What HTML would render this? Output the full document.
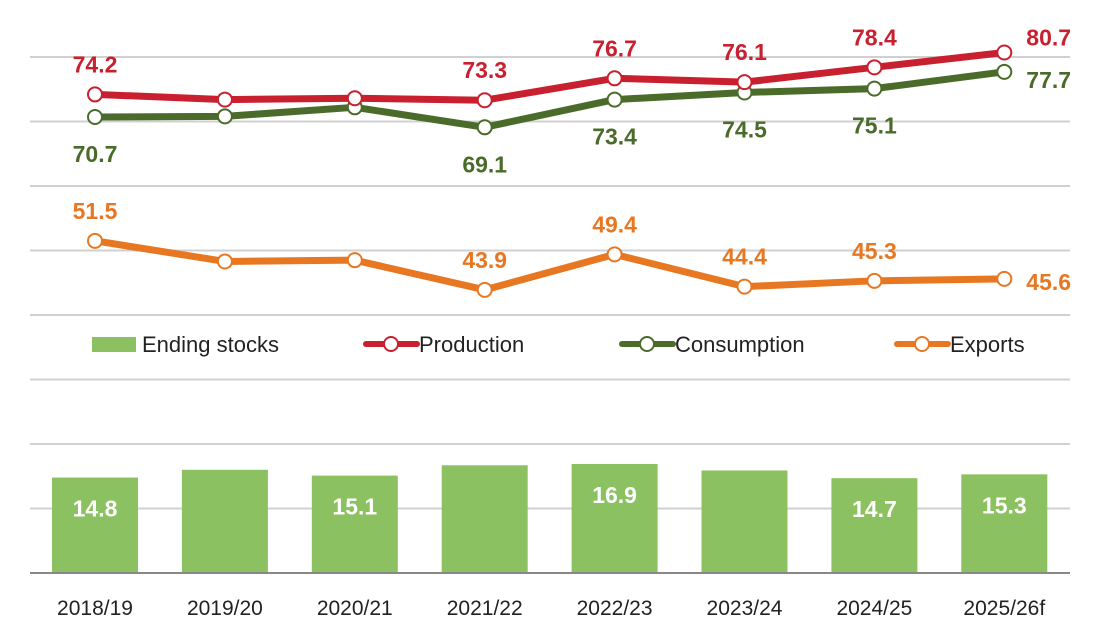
<!DOCTYPE html>
<html><head><meta charset="utf-8">
<style>
html,body{margin:0;padding:0;background:#fff;}
svg{display:block;font-family:"Liberation Sans",sans-serif;}
</style></head>
<body>
<svg id="chart" width="1102" height="640" viewBox="0 0 1102 640" xmlns="http://www.w3.org/2000/svg"></svg>
<script>
const categories = ["2018/19","2019/20","2020/21","2021/22","2022/23","2023/24","2024/25","2025/26f"];
const endingStocks = [14.8,16.0,15.1,16.7,16.9,15.9,14.7,15.3];
const stockLabels = ["14.8","","15.1","","16.9","","14.7","15.3"];
const production = [74.2,73.4,73.6,73.3,76.7,76.1,78.4,80.7];
const productionLabels = ["74.2","","","73.3","76.7","76.1","78.4","80.7"];
const consumption = [70.7,70.8,72.2,69.1,73.4,74.5,75.1,77.7];
const consumptionLabels = ["70.7","","","69.1","73.4","74.5","75.1","77.7"];
const exportsV = [51.5,48.3,48.5,43.9,49.4,44.4,45.3,45.6];
const exportsLabels = ["51.5","","","43.9","49.4","44.4","45.3","45.6"];
const gridValues = [0,10,20,30,40,50,60,70,80];

const svg = document.getElementById('chart');
const NS = 'http://www.w3.org/2000/svg';
const y = v => 573 - v * 6.45;
const x = i => 95 + i * 129.9;
function mk(tag, attrs, parent){const e=document.createElementNS(NS,tag);for(const k in attrs)e.setAttribute(k,attrs[k]);(parent||svg).appendChild(e);return e;}

gridValues.forEach((g,i)=>{
  if(g===0) return;
  const l = mk('line',{x1:30,x2:1070,y1:y(g),y2:y(g),stroke:'#d0d0d0','stroke-width':2});
  
  
});

endingStocks.forEach((v,i)=>{
  const r = mk('rect',{x:x(i)-43,y:y(v),width:86,height:573-y(v),fill:'#8cc161'});
  
  
  if(stockLabels[i]){
    const t = mk('text',{x:x(i),y:y(v)+39,'text-anchor':'middle','font-size':23,'font-weight':'bold',fill:'#fff'});
    t.textContent = stockLabels[i];
    
    
  }
});

const ax = mk('line',{x1:30,x2:1070,y1:573,y2:573,stroke:'#888','stroke-width':2});



categories.forEach((c,i)=>{
  const t = mk('text',{x:x(i),y:615,'text-anchor':'middle','font-size':21,fill:'#222'});
  t.textContent = c;
  
  
});

function series(vals, labels, color, name, pos){
  const pts = vals.map((v,i)=>x(i)+','+y(v)).join(' ');
  const pl = mk('polyline',{points:pts,fill:'none',stroke:color,'stroke-width':7,'stroke-linejoin':'round'});
  
  
  vals.forEach((v,i)=>{
    const c = mk('circle',{cx:x(i),cy:y(v),r:7,fill:'#fff',stroke:color,'stroke-width':2});
    
    
    if(labels[i]){
      let tx=x(i), ty, anchor='middle';
      if(i===vals.length-1){
        tx=x(i)+22; anchor='start';
        if(name==='production') ty=y(v)-7;
        else if(name==='consumption') ty=y(v)+16;
        else ty=y(v)+11;
      } else {
        ty = pos==='below' ? y(v)+45 : y(v)-22;
      }
      const t = mk('text',{x:tx,y:ty,'text-anchor':anchor,'font-size':23,'font-weight':'bold',fill:color});
      t.textContent = labels[i];
      
      
    }
  });
}
series(exportsV, exportsLabels, '#e87722', 'exports', 'above');
series(consumption, consumptionLabels, '#4a6b2a', 'consumption', 'below');
series(production, productionLabels, '#c8202f', 'production', 'above');

const lg = mk('g',{});


const e1 = mk('g',{},lg);


mk('rect',{x:92,y:337,width:44,height:15,fill:'#8cc161'},e1);
mk('text',{x:142,y:352,'font-size':22,fill:'#222'},e1).textContent='Ending stocks';
[[366,'#c8202f','Production'],[622,'#4a6b2a','Consumption'],[897,'#e87722','Exports']].forEach(([lx,col,name])=>{
  const g = mk('g',{},lg);
  
  
  mk('line',{x1:lx,x2:lx+51,y1:344,y2:344,stroke:col,'stroke-width':6,'stroke-linecap':'round'},g);
  mk('circle',{cx:lx+25,cy:344,r:7,fill:'#fff',stroke:col,'stroke-width':2},g);
  mk('text',{x:lx+53,y:352,'font-size':22,fill:'#222'},g).textContent=name;
});
</script>
</body></html>
